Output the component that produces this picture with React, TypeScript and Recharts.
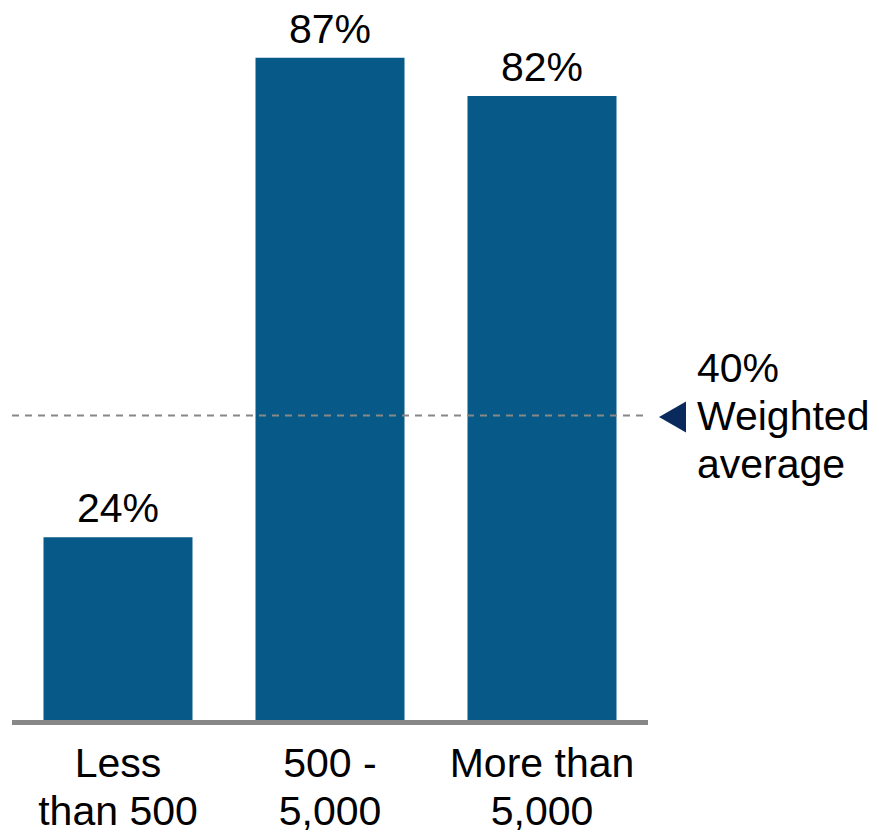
import React from "react";
import { BarChart, Bar, XAxis, YAxis, ReferenceLine, LabelList } from "recharts";

const categories = ["Less than 500", "500 - 5,000", "More than 5,000"];
const tickLines: string[][] = [["Less", "than 500"], ["500 -", "5,000"], ["More than", "5,000"]];
const shares = [24, 87, 82];
const weightedAverage = 40;
const averageLabel = ["40%", "Weighted", "average"];

const data = categories.map((c, i) => ({ category: c, value: shares[i] }));

const FONT = "'Liberation Sans', Arial, sans-serif";
const BAR = "#075A87";

const Tick = (props: any) => {
  const { x, y, index } = props;
  const lines = tickLines[index] || [];
  return (
    <g>
      {lines.map((l, i) => (
        <text key={i} x={x} y={y + 57 + 48 * i} textAnchor="middle" fontSize={41} fontFamily={FONT} fill="#000">
          {l}
        </text>
      ))}
    </g>
  );
};

const ValueLabel = (props: any) => {
  const { x, y, width, value } = props;
  return (
    <text x={x + width / 2} y={y - 15} textAnchor="middle" fontSize={41} fontFamily={FONT} fill="#000">
      {value}%
    </text>
  );
};

const AvgLabel = (props: any) => {
  const vb = props.viewBox || {};
  const x2 = vb.x + vb.width;
  const y = vb.y;
  return (
    <g>
      <polygon points={`${x2 + 11},${y + 1.5} ${x2 + 38},${y - 14} ${x2 + 38},${y + 17}`} fill="#0A2A5E" />
      {averageLabel.map((t, i) => (
        <text key={i} x={x2 + 49} y={y - 34 + 48 * i} fontSize={41} fontFamily={FONT} fill="#000">
          {t}
        </text>
      ))}
    </g>
  );
};

const BaseLine = (props: any) => {
  const { x1, x2, y1 } = props;
  return <line x1={x1} x2={x2} y1={y1 + 2.5} y2={y1 + 2.5} stroke="#888888" strokeWidth={5} />;
};

export default function App() {
  return (
    <div style={{ position: "absolute", left: 0, top: 0, width: 879, height: 835, background: "#fff" }}>
      <BarChart
        width={879}
        height={835}
        data={data}
        margin={{ top: 35, right: 231, bottom: 0, left: 12 }}
        barCategoryGap={31.5}
      >
        <XAxis
          dataKey="category"
          axisLine={false}
          tickLine={false}
          tick={<Tick />}
          interval={0}
          height={115}
          tickMargin={0}
          tickSize={0}
        />
        <YAxis hide domain={[0, 90]} />
        <ReferenceLine
          y={weightedAverage}
          stroke="#888888"
          strokeWidth={2}
          strokeDasharray="7 6"
          label={<AvgLabel />}
          ifOverflow="visible"
        />
        <Bar dataKey="value" fill={BAR} isAnimationActive={false}>
          <LabelList dataKey="value" content={<ValueLabel />} />
        </Bar>
        <ReferenceLine y={0} shape={<BaseLine />} ifOverflow="visible" />
      </BarChart>
    </div>
  );
}
